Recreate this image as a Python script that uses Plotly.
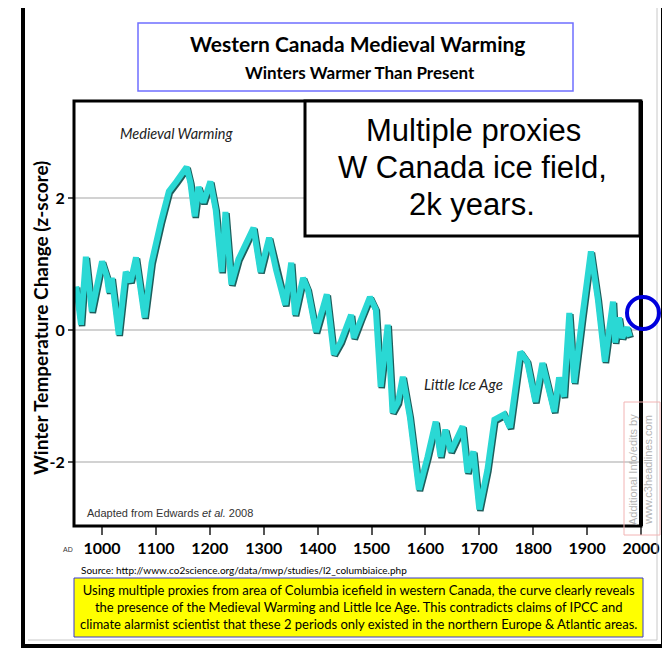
import plotly.graph_objects as go

# digitised winter temperature z-scores (Edwards et al. 2008)
years = [954, 963, 972, 983, 1002, 1011, 1015, 1020, 1033, 1046, 1055, 1065, 1081, 1094,
         1111, 1126, 1140, 1159, 1166, 1174, 1181, 1190, 1203, 1213, 1224, 1231, 1242, 1255,
         1283, 1296, 1312, 1325, 1342, 1353, 1360, 1375, 1384, 1399, 1419, 1432, 1445, 1464,
         1469, 1482, 1499, 1510, 1519, 1532, 1541, 1551, 1560, 1573, 1590, 1606, 1621, 1630,
         1639, 1649, 1671, 1680, 1691, 1702, 1717, 1730, 1748, 1759, 1778, 1791, 1806, 1819,
         1841, 1850, 1859, 1869, 1878, 1893, 1909, 1922, 1935, 1950, 1954, 1961, 1967, 1976, 1981]
zscore = [0.64, 0.06, 1.09, 0.26, 1.02, 0.79, 0.55, 0.77, -0.09, 0.86, 0.71, 1.08, 0.17, 1.00,
          1.61, 2.08, 2.23, 2.45, 2.21, 1.70, 2.15, 1.91, 2.23, 1.80, 0.86, 1.77, 0.67, 1.05,
          1.53, 0.86, 1.38, 0.89, 0.36, 1.00, 0.21, 0.77, 0.59, -0.05, 0.52, -0.39, -0.20, 0.21,
          -0.14, 0.14, 0.48, 0.29, -0.88, 0.06, -1.27, -1.12, -0.73, -1.33, -2.44, -1.94, -1.41, -1.94,
          -1.53, -1.86, -1.48, -2.18, -1.86, -2.74, -2.14, -1.38, -1.30, -1.50, -0.35, -0.50, -1.11, -0.52,
          -1.26, -0.74, -1.03, 0.24, -0.82, 0.17, 1.17, 0.44, -0.50, 0.41, -0.21, 0.17, -0.14, 0.02, -0.12]

x_ticks = [1000, 1100, 1200, 1300, 1400, 1500, 1600, 1700, 1800, 1900, 2000]
y_ticks = [-2, 0, 2]

# page body adds an 8px margin, so everything is laid out 8px up-left
OFF = 8
L, R, T, B = 74 - OFF, 641 - OFF, 101 - OFF, 526 - OFF
XR = [948, 2000]
YR = [-2.97, 3.47]

def px(x):
    return (x - OFF - L) / (R - L)

def py(y):
    return (B - (y - OFF)) / (B - T)

fig = go.Figure()
# dark shadow first, cyan band on an overlaid copy of the axes nudged up-left
fig.add_trace(go.Scatter(x=years, y=zscore, mode="lines",
                         line=dict(color="#1d5e5c", width=6.5), hoverinfo="skip"))
fig.add_trace(go.Scatter(x=years, y=zscore, xaxis="x2", yaxis="y2", mode="lines",
                         line=dict(color="#2ad8d4", width=6)))

bold = dict(family="Lato", size=16, color="black", weight="bold")

fig.update_layout(
    width=670, height=652,
    margin=dict(l=L, r=670 - R, t=T, b=652 - B),
    paper_bgcolor="white", plot_bgcolor="white",
    showlegend=False,
    xaxis=dict(range=XR, tickvals=x_ticks, ticks="outside", ticklen=8, tickcolor="#555",
               tickwidth=1.5, showgrid=False, zeroline=False, showline=False, tickfont=bold),
    yaxis=dict(range=YR, tickvals=y_ticks, ticktext=[str(v) for v in y_ticks], ticks="outside",
               ticklen=5, tickcolor="#555", tickwidth=1.5, showgrid=True, gridcolor="#d2d2d2",
               gridwidth=1.5, zeroline=False, showline=False, tickfont=bold),
    xaxis2=dict(range=[XR[0] + 2, XR[1] + 2], overlaying="x", visible=False),
    yaxis2=dict(range=[YR[0] - 0.02, YR[1] - 0.02], overlaying="y", visible=False),
)

P = dict(xref="paper", yref="paper")
shapes = []
# outer frame
shapes.append(dict(type="line", x0=px(23), x1=px(23), y0=py(-5), y1=py(646), line=dict(color="black", width=4), **P))
shapes.append(dict(type="line", x0=px(21), x1=px(665), y0=py(646), y1=py(646), line=dict(color="black", width=4), **P))
shapes.append(dict(type="line", x0=px(663), x1=px(663), y0=py(-5), y1=py(646), line=dict(color="black", width=4), **P))
shapes.append(dict(type="line", x0=px(657), x1=px(657), y0=py(-5), y1=py(640), line=dict(color="#c8c8c8", width=1), **P))
shapes.append(dict(type="line", x0=px(28), x1=px(657), y0=py(640), y1=py(640), line=dict(color="#c8c8c8", width=1), **P))
# plot frame
shapes.append(dict(type="rect", x0=0, x1=1, y0=0, y1=1, line=dict(color="black", width=3), **P))
shapes.append(dict(type="line", x0=1, x1=1, y0=0, y1=1, line=dict(color="black", width=4), **P))
# title box
shapes.append(dict(type="rect", x0=px(138), x1=px(573), y0=py(91), y1=py(23),
                   line=dict(color="#6f6fff", width=1.5), fillcolor="white", **P))
# proxies box
shapes.append(dict(type="rect", x0=px(305), x1=px(640), y0=py(236), y1=py(101),
                   line=dict(color="black", width=3), fillcolor="white", **P))
# blue circle
shapes.append(dict(type="circle", x0=px(627), x1=px(659), y0=py(329), y1=py(297),
                   line=dict(color="#0000dd", width=4), **P))
# watermark box
shapes.append(dict(type="rect", x0=px(624), x1=px(660), y0=py(535), y1=py(402),
                   line=dict(color="#f2b4b4", width=1), **P))
# yellow note box
shapes.append(dict(type="rect", x0=px(74), x1=px(643), y0=py(637), y1=py(578),
                   line=dict(color="#3a3acc", width=1), fillcolor="#ffff00", **P))
fig.update_layout(shapes=shapes)

def note(x, y, text, **kw):
    d = dict(x=px(x), y=py(y), xref="paper", yref="paper", text=text, showarrow=False,
             xanchor="center", yanchor="middle")
    d.update(kw)
    fig.add_annotation(**d)

note(357, 43, "<b>Western Canada Medieval Warming</b>", font=dict(family="Lato", size=21, color="black"))
note(360, 72, "<b>Winters Warmer Than Present</b>", font=dict(family="Lato", size=17, color="black"))
big = dict(family="Liberation Sans", size=31, color="black")
note(473, 131, "Multiple proxies", font=big)
note(472, 167, "W Canada ice field,", font=big)
note(472, 204, "2k years.", font=big)
note(176, 133, "<i>Medieval Warming</i>", font=dict(family="Lato", size=14.5, color="#222"))
note(463, 384, "<i>Little Ice Age</i>", font=dict(family="Lato", size=15, color="#222"))
note(85, 513, "Adapted from Edwards <i>et al.</i> 2008", xanchor="left",
     font=dict(family="Liberation Sans", size=11, color="#333"))
note(40, 318, "<b>Winter Temperature Change (z-score)</b>", textangle=-90,
     font=dict(family="Lato", size=19, color="black"))
note(68, 549, "AD", font=dict(family="Liberation Sans", size=7, color="#333"))
note(633, 470, "Additional Info/edits by", textangle=-90,
     font=dict(family="Liberation Sans", size=11, color="#b4b4b4"))
note(648, 470, "www.c3headlines.com", textangle=-90,
     font=dict(family="Liberation Sans", size=11, color="#b4b4b4"))
note(79, 570, "Source: http://www.co2science.org/data/mwp/studies/l2_columbiaice.php", xanchor="left",
     font=dict(family="Lato", size=10, color="black"))
note(358, 607, "Using multiple proxies from area of Columbia icefield in western Canada, the curve clearly reveals<br>"
     "the presence of the Medieval Warming and Little Ice Age. This contradicts claims of IPCC and<br>"
     "climate alarmist scientist that these 2 periods only existed in the northern Europe &amp; Atlantic areas.",
     font=dict(family="Lato", size=13, color="black"))

fig.write_html("out.html")
